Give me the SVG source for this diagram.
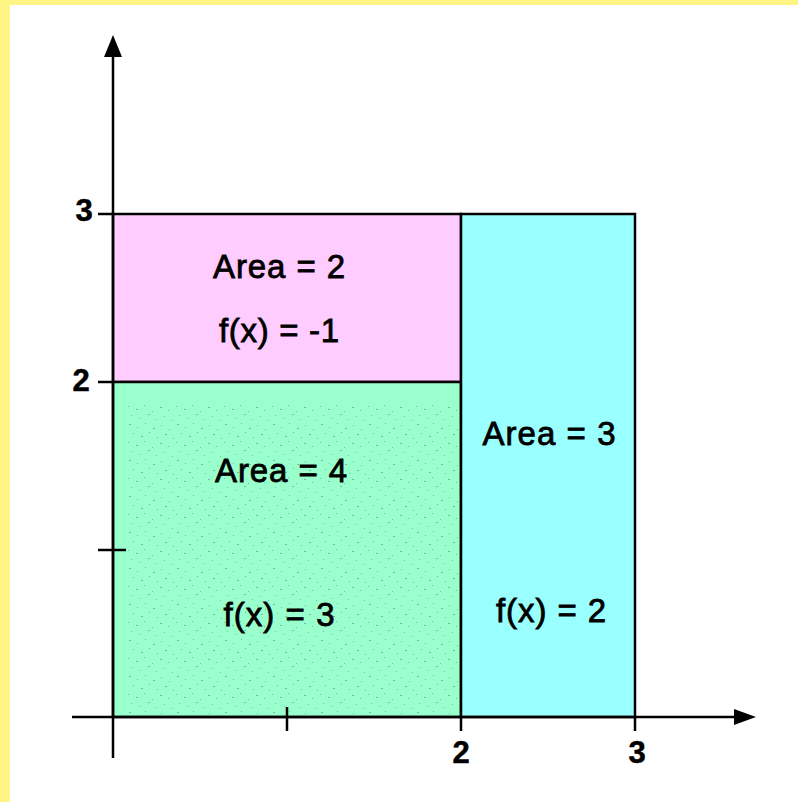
<svg xmlns="http://www.w3.org/2000/svg" width="798" height="802" viewBox="0 0 798 802">
<style>
.ax{stroke:#000;stroke-width:2.5;fill:none}
.box{stroke:#000;stroke-width:2.5}
.lbl{font-family:"Liberation Sans",Arial,sans-serif;font-size:33px;fill:#000;stroke:#000;stroke-width:0.8;text-anchor:middle}
.num{font-family:"Liberation Sans",Arial,sans-serif;font-size:31px;font-weight:bold;fill:#000;stroke:#000;stroke-width:0.5;text-anchor:middle}
</style>
<defs>
<pattern id="tex" x="127" y="404" width="48" height="36" patternUnits="userSpaceOnUse">
<g fill="#74c096">
<rect x="1" y="2" width="1" height="1"/><rect x="9" y="5" width="2" height="1"/><rect x="17" y="1" width="1" height="1"/><rect x="25" y="7" width="1" height="1"/><rect x="33" y="3" width="2" height="1"/><rect x="41" y="6" width="1" height="1"/>
<rect x="4" y="11" width="1" height="1"/><rect x="13" y="14" width="1" height="1"/><rect x="21" y="10" width="2" height="1"/><rect x="29" y="15" width="1" height="1"/><rect x="37" y="12" width="1" height="1"/><rect x="45" y="16" width="1" height="1"/>
<rect x="2" y="20" width="2" height="1"/><rect x="10" y="23" width="1" height="1"/><rect x="18" y="19" width="1" height="1"/><rect x="26" y="24" width="2" height="1"/><rect x="34" y="21" width="1" height="1"/><rect x="42" y="25" width="1" height="1"/>
<rect x="6" y="29" width="1" height="1"/><rect x="14" y="32" width="2" height="1"/><rect x="22" y="28" width="1" height="1"/><rect x="30" y="33" width="1" height="1"/><rect x="38" y="30" width="2" height="1"/><rect x="46" y="34" width="1" height="1"/>
</g>
</pattern>
</defs>
<rect x="0" y="0" width="798" height="802" fill="#fff"/>
<rect x="0" y="0" width="798" height="5" fill="#fff584"/>
<rect x="0" y="0" width="10" height="802" fill="#fff584"/>
<g id="region-pink">
<rect class="box" x="113" y="214" width="348" height="168" fill="#ffccff"/>
<text class="lbl" x="279" y="278" textLength="132" lengthAdjust="spacing">Area = 2</text>
<text class="lbl" x="279" y="342" textLength="120" lengthAdjust="spacing">f(x) = -1</text>
</g>
<g id="region-green">
<rect class="box" x="113" y="382" width="348" height="335" fill="#99ffcc"/>
<rect x="127" y="404" width="333" height="312" fill="url(#tex)"/>
<text class="lbl" x="281" y="482" textLength="132" lengthAdjust="spacing">Area = 4</text>
<text class="lbl" x="279" y="626" textLength="111" lengthAdjust="spacing">f(x) = 3</text>
</g>
<g id="region-cyan">
<rect class="box" x="461" y="214" width="174" height="503" fill="#99ffff"/>
<text class="lbl" x="549" y="445" textLength="133" lengthAdjust="spacing">Area = 3</text>
<text class="lbl" x="551" y="622" textLength="110" lengthAdjust="spacing">f(x) = 2</text>
</g>
<g id="axes">
<line class="ax" x1="113" y1="55" x2="113" y2="758"/>
<line class="ax" x1="72" y1="717" x2="738" y2="717"/>
<polygon points="113,35 104,57 122,57" fill="#000"/>
<polygon points="756,717 734,709 734,725" fill="#000"/>
<line class="ax" x1="98" y1="214" x2="113" y2="214"/>
<line class="ax" x1="98" y1="382" x2="113" y2="382"/>
<line class="ax" x1="98" y1="550" x2="126" y2="550"/>
<line class="ax" x1="287" y1="707" x2="287" y2="731"/>
<line class="ax" x1="461" y1="717" x2="461" y2="731"/>
<line class="ax" x1="635" y1="717" x2="635" y2="731"/>
</g>
<g id="tick-labels">
<text class="num" x="84" y="221">3</text>
<text class="num" x="81" y="391">2</text>
<text class="num" x="461" y="763">2</text>
<text class="num" x="637" y="763">3</text>
</g>
</svg>
